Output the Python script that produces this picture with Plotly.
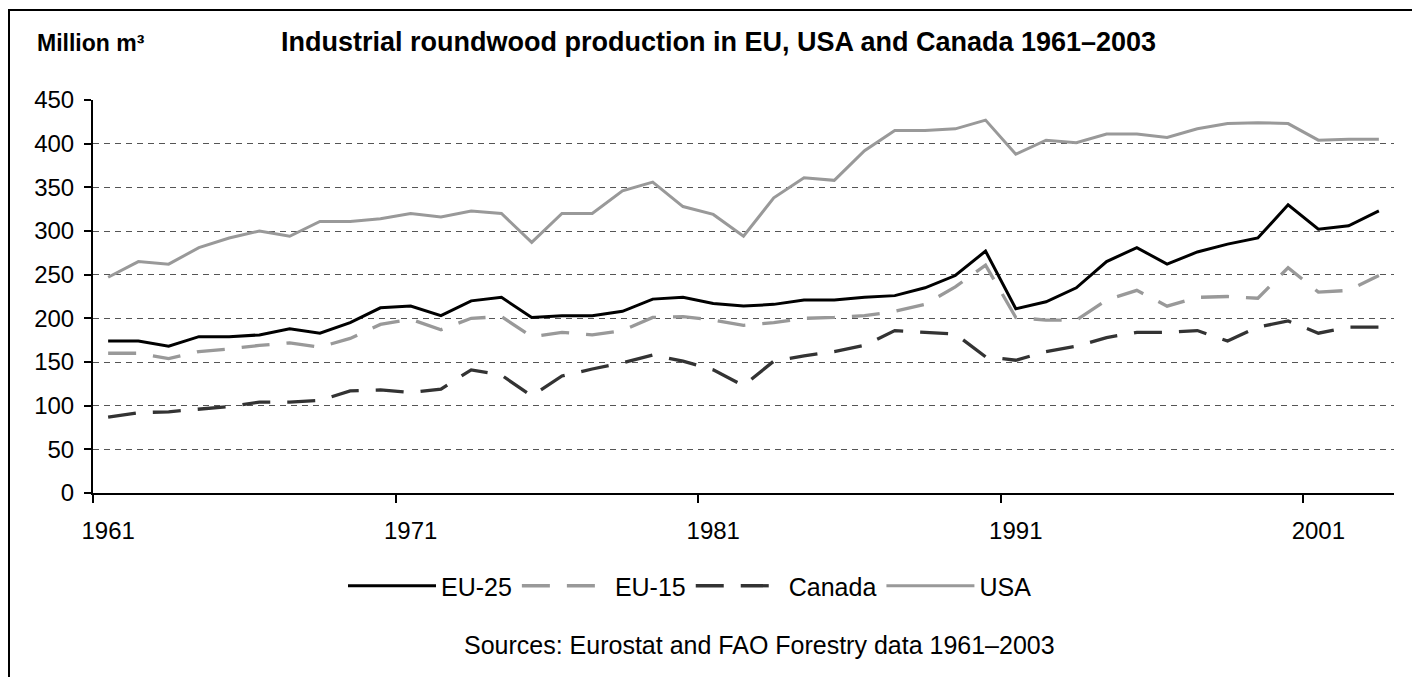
import plotly.graph_objects as go

years = list(range(1961, 2004))
eu25 = [174, 174, 168, 179, 179, 181, 188, 183, 195, 212,
        214, 203, 220, 224, 201, 203, 203, 208, 222, 224,
        217, 214, 216, 221, 221, 224, 226, 235, 249, 277,
        211, 219, 235, 265, 281, 262, 276, 285, 292, 330,
        302, 306, 323]
eu15 = [160, 160, 154, 162, 165, 169, 172, 167, 177, 193,
        199, 187, 200, 202, 179, 184, 181, 186, 201, 202,
        198, 192, 195, 200, 201, 203, 208, 216, 236, 261,
        201, 198, 198, 221, 232, 214, 224, 225, 223, 258,
        230, 232, 249]
canada = [87, 92, 93, 96, 99, 104, 104, 106, 117, 118,
          115, 119, 141, 135, 111, 134, 142, 149, 158, 151,
          141, 123, 151, 157, 162, 169, 186, 184, 182, 156,
          152, 162, 168, 178, 184, 184, 186, 174, 190, 197,
          183, 190, 190]
usa = [247, 265, 262, 281, 292, 300, 294, 311, 311, 314,
       320, 316, 323, 320, 287, 320, 320, 346, 356, 328,
       319, 294, 338, 361, 358, 392, 415, 415, 417, 427,
       388, 404, 401, 411, 411, 407, 417, 423, 424, 423,
       404, 405, 405]
tick_years = [1961, 1971, 1981, 1991, 2001]
y_ticks = [0, 50, 100, 150, 200, 250, 300, 350, 400, 450]

FONT = "Arial, Liberation Sans, sans-serif"

fig = go.Figure()
fig.add_trace(go.Scatter(x=years, y=eu25, name="EU-25", mode="lines",
                         line=dict(color="#000000", width=3)))
fig.add_trace(go.Scatter(x=years, y=eu15, name="EU-15", mode="lines",
                         line=dict(color="#999999", width=3.3, dash="28px,17px")))
fig.add_trace(go.Scatter(x=years, y=canada, name="Canada", mode="lines",
                         line=dict(color="#333333", width=3.3, dash="28px,17px")))
fig.add_trace(go.Scatter(x=years, y=usa, name="USA", mode="lines",
                         line=dict(color="#999999", width=3)))

# page has an 8px body margin; lay out in page pixels and shift
OFF = 8
W, H = 1420 - OFF, 677 - OFF
L, T = 93 - OFF, 100 - OFF
R = W - (1394 - OFF)
B = H - (493 - OFF)
pw, ph = W - L - R, H - T - B

def px_to_paper_x(px):
    return (px - OFF - L) / pw

def px_to_paper_y(py):
    return (H - B - (py - OFF)) / ph

fig.update_layout(
    width=W, height=H,
    margin=dict(l=L, r=R, t=T, b=B),
    paper_bgcolor="white", plot_bgcolor="white",
    font=dict(family=FONT, color="#000000", size=24),
    showlegend=True,
    legend=dict(orientation="h", x=px_to_paper_x(690), xanchor="center",
                y=px_to_paper_y(586), yanchor="middle",
                font=dict(family=FONT, size=25, color="#000000"),
                itemwidth=88, bgcolor="rgba(0,0,0,0)"),
    xaxis=dict(range=[1960.5, 2003.5], tickmode="array", tickvals=tick_years,
               ticktext=[str(t) for t in tick_years], ticks="",
               ticklabelstandoff=15,
               showline=True, linecolor="#000000", linewidth=2,
               showgrid=False, zeroline=False,
               tickfont=dict(family=FONT, size=24, color="#000000"),
               minor=dict(tickmode="array",
                          tickvals=[1960.5, 1970.5, 1980.5, 1990.5, 2000.5],
                          ticks="outside", ticklen=8, tickwidth=1.5,
                          tickcolor="#000000", showgrid=False)),
    yaxis=dict(range=[0, 450], tickmode="array", tickvals=y_ticks,
               ticks="outside", ticklen=7, tickwidth=1.5, tickcolor="#000000",
               ticklabelstandoff=5,
               showline=True, linecolor="#000000", linewidth=2,
               showgrid=True, gridcolor="#555555", gridwidth=1, griddash="6px,5px",
               zeroline=False,
               tickfont=dict(family=FONT, size=24, color="#000000")),
    annotations=[
        dict(text="<b>Industrial roundwood production in EU, USA and Canada 1961\u20132003</b>",
             xref="paper", yref="paper", x=px_to_paper_x(718), y=px_to_paper_y(42),
             xanchor="center", yanchor="middle", showarrow=False,
             font=dict(family=FONT, size=27, color="#000000")),
        dict(text="<b>Million m\u00b3</b>",
             xref="paper", yref="paper", x=px_to_paper_x(35), y=px_to_paper_y(43),
             xanchor="left", yanchor="middle", showarrow=False,
             font=dict(family=FONT, size=23, color="#000000")),
        dict(text="Sources: Eurostat and FAO Forestry data 1961\u20132003",
             xref="paper", yref="paper", x=px_to_paper_x(759), y=px_to_paper_y(645),
             xanchor="center", yanchor="middle", showarrow=False,
             font=dict(family=FONT, size=25, color="#000000")),
    ],
    shapes=[
        dict(type="rect", xref="paper", yref="paper",
             x0=px_to_paper_x(9), x1=px_to_paper_x(1440),
             y0=px_to_paper_y(700), y1=px_to_paper_y(10),
             line=dict(color="#000000", width=2), fillcolor="rgba(0,0,0,0)",
             layer="below"),
    ],
)

fig.write_html("out.html")
